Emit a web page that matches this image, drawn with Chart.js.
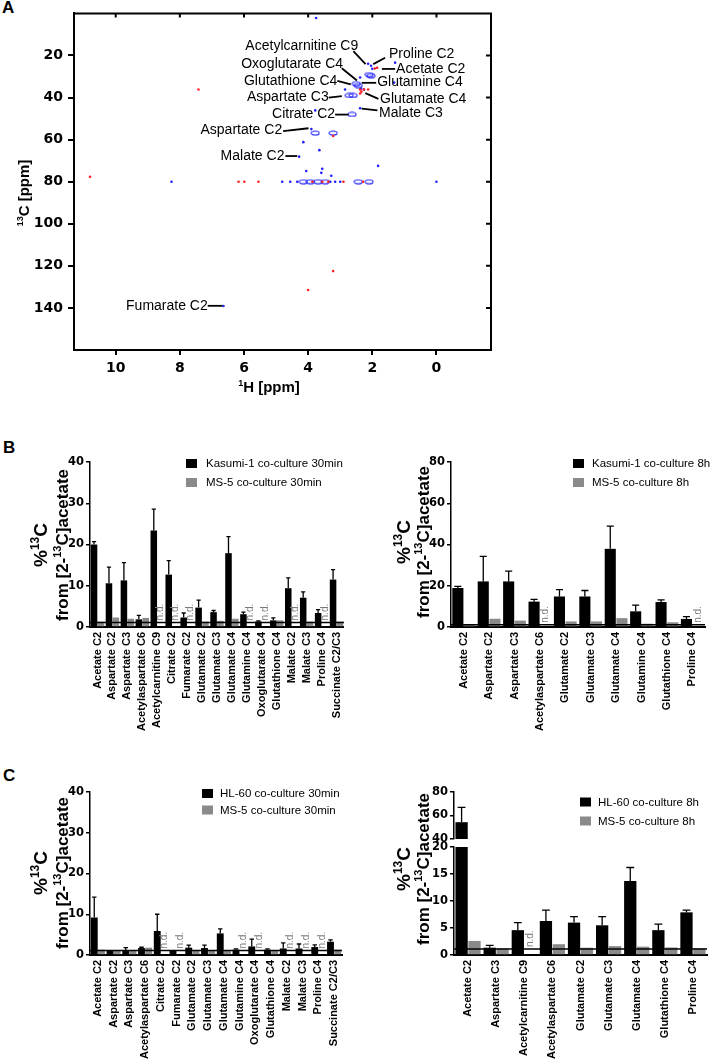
<!DOCTYPE html>
<html>
<head>
<meta charset="utf-8">
<script src="https://cdn.jsdelivr.net/npm/chart.js@4.4.1/dist/chart.umd.min.js"></script>
<style>
  body { margin: 0; background: #fff; width: 714px; height: 1064px; position: relative; overflow: hidden; }
  canvas { position: absolute; }
  .panel { position: absolute; font: bold 17px "Liberation Sans", Arial, sans-serif; line-height: 1; }
</style>
</head>
<body>
<div class="panel" style="left:2px;top:-1px">A</div>
<div class="panel" style="left:3px;top:439px">B</div>
<div class="panel" style="left:3px;top:767px">C</div>

<canvas id="nmr" width="500" height="405" style="left:0;top:0"></canvas>
<canvas id="b30" width="355" height="310" style="left:0;top:440px"></canvas>
<canvas id="b8h" width="354" height="310" style="left:360px;top:440px"></canvas>
<canvas id="c30" width="355" height="294" style="left:0;top:770px"></canvas>
<canvas id="c8hLow" width="354" height="294" style="left:360px;top:770px"></canvas>
<canvas id="c8hTop" width="354" height="294" style="left:360px;top:770px"></canvas>

<script>
const SANS = '"Liberation Sans", Arial, sans-serif';
const NUM = '"DejaVu Sans", sans-serif';

// ---- Panel A: 1H-13C HSQC peaks, [1H ppm, 13C ppm] ----
const xTicksA = [0, 2, 4, 6, 8, 10];
const yTicksA = [20, 40, 60, 80, 100, 120, 140];
const blueRings = [
  [2.1, 29.1], [2.04, 29.6], [2.5, 33.4], [2.44, 34.3], [2.72, 39.0], [2.6, 39.0], [2.63, 48.0],
  [3.78, 56.9], [3.22, 56.9], [4.15, 80], [3.93, 80], [3.69, 80], [3.47, 80], [2.44, 80], [2.1, 80]
];
const blueDots = [
  [3.75, 2.2], [2.13, 23.9], [2.04, 24.9], [2.0, 26.3], [2.38, 30.5], [2.35, 35.7], [2.26, 36.2],
  [2.85, 36.2], [3.78, 46.1], [2.38, 45.1], [1.29, 23.4], [1.32, 32.9], [3.9, 55.0], [4.15, 61.2],
  [3.65, 65.0], [4.06, 74.9], [3.59, 75.8], [3.56, 73.9], [3.28, 77.2], [1.82, 72.5], [4.28, 68.1],
  [4.81, 80], [4.56, 80], [4.34, 80], [3.31, 80], [3.16, 80], [3.0, 80], [0.0, 80], [8.26, 80],
  [6.64, 139.1]
];
const redDots = [
  [1.85, 25.8], [1.92, 26.2], [2.26, 36.2], [2.38, 36.2], [2.13, 36.2], [2.38, 38.1], [2.34, 37.2],
  [3.22, 58.3], [7.42, 36.2], [10.8, 77.7], [6.17, 80], [5.99, 80], [5.55, 80], [3.87, 80], [3.56, 80],
  [3.37, 80], [2.9, 80], [2.29, 80], [4.0, 131.5], [3.22, 122.5]
];
// [text, align, textH, textC, lineH1, lineC1, lineH2, lineC2]
const peakLabels = [
  ['Acetylcarnitine C9', 'right', 2.44, 15.4, 2.59, 17.9, 2.21, 24.1],
  ['Proline C2', 'left', 1.48, 19.4, 1.6, 21.1, 1.97, 24.1],
  ['Oxoglutarate C4', 'right', 2.91, 23.9, 2.95, 26.1, 2.48, 31.9],
  ['Acetate C2', 'left', 1.26, 26.3, 1.7, 26.4, 1.29, 26.4],
  ['Glutathione C4', 'right', 3.09, 32.4, 3.09, 32.1, 2.67, 33.7],
  ['Glutamine C4', 'left', 1.85, 32.9, 2.33, 33.0, 1.88, 33.0],
  ['Aspartate C3', 'right', 3.36, 40.0, 3.36, 40.0, 2.95, 39.3],
  ['Glutamate C4', 'left', 1.76, 40.6, 2.22, 37.9, 1.81, 40.6],
  ['Citrate C2', 'right', 3.16, 48.1, 3.16, 48.1, 2.74, 48.1],
  ['Malate C3', 'left', 1.79, 47.3, 2.33, 45.3, 1.84, 46.1],
  ['Aspartate C2', 'right', 4.81, 55.7, 4.78, 56.0, 3.99, 54.6],
  ['Malate C2', 'right', 4.74, 67.8, 4.71, 67.8, 4.34, 67.8],
  ['Fumarate C2', 'right', 7.13, 139.0, 7.13, 139.0, 6.67, 139.0]
];

// ---- Panels B and C: % 13C from [2-13C]acetate ----
const naturalAbundance = 1.1;
const cats30B = ['Acetate C2', 'Aspartate C2', 'Aspartate C3', 'Acetylaspartate C6', 'Acetylcarnitine C9',
  'Citrate C2', 'Fumarate C2', 'Glutamate C2', 'Glutamate C3', 'Glutamate C4', 'Glutamine C4',
  'Oxoglutarate C4', 'Glutathione C4', 'Malate C2', 'Malate C3', 'Proline C4', 'Succinate C2/C3'];
const kasumi30 = [20.0, 10.6, 11.3, 1.85, 23.4, 12.7, 2.3, 4.7, 3.6, 17.9, 3.1, 1.3, 1.6, 9.4, 7.1, 3.4, 11.5];
const kasumi30Err = [0.7, 3.9, 4.3, 0.95, 5.2, 3.4, 1.1, 1.8, 0.4, 4.0, 0.5, 0.15, 0.6, 2.5, 1.4, 0.8, 2.4];
const ms5Kasumi30 = [1.3, 2.3, 2.0, 2.2, null, null, null, 1.3, 1.5, 2.0, null, null, 1.6, null, 1.3, null, 1.3];

const cats8hB = ['Acetate C2', 'Aspartate C2', 'Aspartate C3', 'Acetylaspartate C6', 'Glutamate C2',
  'Glutamate C3', 'Glutamate C4', 'Glutamine C4', 'Glutathione C4', 'Proline C4'];
const kasumi8h = [18.9, 22.1, 22.1, 12.3, 14.8, 14.8, 37.9, 7.6, 12.1, 3.9];
const kasumi8hErr = [0.8, 12.1, 5.0, 1.1, 3.3, 2.9, 11.0, 3.0, 1.1, 1.1];
const ms5Kasumi8h = [1.3, 4.0, 3.1, null, 2.7, 2.7, 4.3, 1.6, 2.3, null];

const cats30C = ['Acetate C2', 'Aspartate C2', 'Aspartate C3', 'Acetylaspartate C6', 'Citrate C2',
  'Fumarate C2', 'Glutamate C2', 'Glutamate C3', 'Glutamate C4', 'Glutamine C4', 'Oxoglutarate C4',
  'Glutathione C4', 'Malate C2', 'Malate C3', 'Proline C4', 'Succinate C2/C3'];
const hl30 = [9.2, 1.0, 1.2, 1.7, 5.9, 1.05, 1.8, 1.7, 5.3, 1.3, 2.1, 1.3, 1.6, 1.6, 1.95, 3.25];
const hl30Err = [5.0, 0, 0.6, 0.2, 4.1, 0, 0.6, 0.7, 1.1, 0.2, 1.8, 0.2, 1.4, 1.1, 0.55, 0.45];
const ms5Hl30 = [1.3, 1.0, 1.2, 1.8, null, null, 1.1, 1.1, 1.2, null, null, 1.1, null, null, null, 1.3];

const cats8hC = ['Acetate C2', 'Aspartate C3', 'Acetylcarnitine C9', 'Acetylaspartate C6', 'Glutamate C2',
  'Glutamate C3', 'Glutamate C4', 'Glutathione C4', 'Proline C4'];
const hl8h = [54.3, 1.35, 4.6, 6.3, 6.0, 5.5, 13.7, 4.6, 7.9];
const hl8hErr = [12.6, 0.45, 1.4, 2.0, 1.1, 1.6, 2.5, 1.1, 0.4];
const ms5Hl8h = [2.6, 1.25, null, 2.0, 1.35, 1.65, 1.55, 1.4, 1.25];

const BLACK = '#000000';
const GREY = '#8a8a8a';

// draw text made of [text, isSuperscript] pieces, optionally rotated to read bottom-up
function drawRich(ctx, segs, x, y, size, rotated) {
  ctx.save();
  ctx.translate(x, y);
  if (rotated) ctx.rotate(-Math.PI / 2);
  const fonts = segs.map(s => `bold ${s[1] ? Math.round(size * 0.62) : size}px ${SANS}`);
  let total = 0;
  const widths = segs.map((s, i) => { ctx.font = fonts[i]; const w = ctx.measureText(s[0]).width; total += w; return w; });
  let cx = -total / 2;
  ctx.fillStyle = '#000';
  ctx.textAlign = 'left';
  ctx.textBaseline = 'alphabetic';
  segs.forEach((s, i) => {
    ctx.font = fonts[i];
    ctx.fillText(s[0], cx, s[1] ? -size * 0.4 : 0);
    cx += widths[i];
  });
  ctx.restore();
}

const yTitle1 = [['%', false], ['13', true], ['C', false]];
const yTitle2 = [['from [2-', false], ['13', true], ['C]acetate', false]];

const barExtras = {
  id: 'barExtras',
  afterDatasetsDraw(chart, args, o) {
    const { ctx, chartArea: a, scales: { y } } = chart;
    const black = chart.data.datasets[0];
    const meta0 = chart.getDatasetMeta(0);
    const meta1 = chart.getDatasetMeta(1);

    ctx.save();
    ctx.beginPath();
    ctx.rect(a.left, a.top - 2, a.right - a.left, a.bottom - a.top + 2);
    ctx.clip();
    // natural abundance line
    if (o.line) {
      const py = y.getPixelForValue(naturalAbundance);
      ctx.strokeStyle = '#000';
      ctx.lineWidth = 1.5;
      ctx.beginPath();
      ctx.moveTo(a.left, py);
      ctx.lineTo(a.right, py);
      ctx.stroke();
    }
    // upper error whiskers for the black series
    ctx.strokeStyle = '#000';
    ctx.lineWidth = 1.3;
    meta0.data.forEach((el, i) => {
      const e = black.err[i];
      if (!e) return;
      const top = y.getPixelForValue(black.data[i] + e);
      const cap = el.width * 0.32;
      ctx.beginPath();
      ctx.moveTo(el.x, el.y);
      ctx.lineTo(el.x, top);
      ctx.moveTo(el.x - cap, top);
      ctx.lineTo(el.x + cap, top);
      ctx.stroke();
    });
    ctx.restore();

    // n.d. markers where the grey series was not detected
    if (o.nd) {
      ctx.save();
      ctx.font = `10px ${SANS}`;
      ctx.fillStyle = '#7a7a7a';
      ctx.textAlign = 'left';
      ctx.textBaseline = 'middle';
      chart.data.datasets[1].data.forEach((v, i) => {
        if (v !== null) return;
        const b = meta0.data[i];
        const x = meta1.data[i] && isFinite(meta1.data[i].x) ? meta1.data[i].x : b.x + b.width;
        ctx.save();
        ctx.translate(x, y.getPixelForValue(naturalAbundance) - 2);
        ctx.rotate(-Math.PI / 2);
        ctx.fillText('n.d.', 0, 0);
        ctx.restore();
      });
      ctx.restore();
    }
  },
  afterDraw(chart, args, o) {
    const { ctx } = chart;
    if (o.legend) {
      const L = o.legend;
      ctx.save();
      ctx.font = `11.5px ${SANS}`;
      ctx.textAlign = 'left';
      ctx.textBaseline = 'middle';
      chart.data.datasets.forEach((ds, i) => {
        const cy = L.y + i * L.dy;
        ctx.fillStyle = ds.backgroundColor;
        ctx.fillRect(L.x, cy - 4.5, 11, 9);
        ctx.fillStyle = '#000';
        ctx.fillText(ds.label, L.x + L.gap, cy + 0.5);
      });
      ctx.restore();
    }
    if (o.title) {
      const T = o.title;
      drawRich(ctx, yTitle1, T.x1 + 7, T.cy, 19, true);
      drawRich(ctx, yTitle2, T.x2 + 6, T.cy, 17, true);
    }
  }
};

function barChart(id, cats, black, blackErr, grey, names, s) {
  return new Chart(document.getElementById(id), {
    type: 'bar',
    data: {
      labels: cats,
      datasets: [
        { label: names[0], data: black, err: blackErr, backgroundColor: BLACK },
        { label: names[1], data: grey, backgroundColor: GREY }
      ]
    },
    options: {
      responsive: false,
      animation: false,
      events: [],
      layout: { padding: { top: s.top, right: s.right, bottom: s.bottom || 0, left: 0 } },
      datasets: { bar: { categoryPercentage: 0.92, barPercentage: 0.95, borderWidth: 0 } },
      plugins: {
        legend: { display: false },
        tooltip: { enabled: false },
        barExtras: { line: s.line, nd: s.nd, legend: s.legend, title: s.title }
      },
      scales: {
        x: {
          display: s.showX,
          grid: { display: false, drawTicks: false },
          border: { color: '#000', width: 2 },
          ticks: {
            autoSkip: false, minRotation: 90, maxRotation: 90, padding: 5, color: '#000',
            font: { family: SANS, size: 11, weight: 'bold' }
          },
          afterFit: sc => { sc.height = s.xHeight; }
        },
        y: {
          min: s.min, max: s.max,
          grid: { drawOnChartArea: false, drawTicks: true, tickLength: 4, color: '#000', lineWidth: 1.5 },
          border: { color: '#000', width: 1.5 },
          ticks: { stepSize: s.step, padding: 2, color: '#000', font: { family: NUM, size: 11.5, weight: 'bold' } },
          afterFit: sc => { sc.width = s.yWidth; }
        }
      }
    },
    plugins: [barExtras]
  });
}

barChart('b30', cats30B, kasumi30, kasumi30Err, ms5Kasumi30,
  ['Kasumi-1 co-culture 30min', 'MS-5 co-culture 30min'],
  { top: 22, right: 10, xHeight: 123, yWidth: 90, min: 0, max: 40, step: 10, showX: true, line: true, nd: true,
    legend: { x: 186, y: 23.5, dy: 19, gap: 20 }, title: { x1: 40, x2: 62, cy: 105 } });

barChart('b8h', cats8hB, kasumi8h, kasumi8hErr, ms5Kasumi8h,
  ['Kasumi-1 co-culture 8h', 'MS-5 co-culture 8h'],
  { top: 22, right: 9, xHeight: 123, yWidth: 91, min: 0, max: 80, step: 20, showX: true, line: true, nd: true,
    legend: { x: 213, y: 23.5, dy: 19, gap: 19 }, title: { x1: 43, x2: 63, cy: 102 } });

barChart('c30', cats30C, hl30, hl30Err, ms5Hl30,
  ['HL-60 co-culture 30min', 'MS-5 co-culture 30min'],
  { top: 22, right: 13, xHeight: 109, yWidth: 90, min: 0, max: 40, step: 10, showX: true, line: true, nd: true,
    legend: { x: 202, y: 23.5, dy: 16.5, gap: 18 }, title: { x1: 40, x2: 62, cy: 103 } });

// C right: broken y axis, lower segment 0-20 and upper segment 40-80
barChart('c8hLow', cats8hC, hl8h, hl8hErr, ms5Hl8h,
  ['HL-60 co-culture 8h', 'MS-5 co-culture 8h'],
  { top: 77, right: 7, xHeight: 109, yWidth: 94, min: 0, max: 20, step: 5, showX: true, line: true, nd: true,
    title: { x1: 43, x2: 63, cy: 99 } });

barChart('c8hTop', cats8hC, hl8h, hl8hErr, ms5Hl8h,
  ['HL-60 co-culture 8h', 'MS-5 co-culture 8h'],
  { top: 22, right: 7, bottom: 225, xHeight: 0, yWidth: 94, min: 40, max: 80, step: 20, showX: false, line: false, nd: false,
    legend: { x: 220, y: 32, dy: 19, gap: 18 } });

// ---- Panel A chart ----
function ellipseStyle(w, h, color) {
  const c = document.createElement('canvas');
  c.width = w + 2; c.height = h + 2;
  const g = c.getContext('2d');
  g.strokeStyle = color; g.lineWidth = 1.1;
  g.beginPath();
  g.ellipse(c.width / 2, c.height / 2, w / 2, h / 2, 0, 0, Math.PI * 2);
  g.stroke();
  return c;
}

const nmrExtras = {
  id: 'nmrExtras',
  afterDraw(chart) {
    const { ctx, chartArea: a, scales: { x, y } } = chart;
    ctx.save();
    ctx.strokeStyle = '#000';
    ctx.lineWidth = 2;
    ctx.beginPath();
    ctx.moveTo(a.left, a.top); ctx.lineTo(a.right, a.top); ctx.lineTo(a.right, a.bottom);
    xTicksA.forEach(v => { const px = x.getPixelForValue(v); ctx.moveTo(px, a.top); ctx.lineTo(px, a.top + 4); });
    yTicksA.forEach(v => { const py = y.getPixelForValue(v); ctx.moveTo(a.right, py); ctx.lineTo(a.right - 5, py); });
    ctx.stroke();

    // peak annotations
    ctx.font = `14px ${SANS}`;
    ctx.fillStyle = '#000';
    ctx.textBaseline = 'middle';
    ctx.lineWidth = 1.8;
    peakLabels.forEach(p => {
      const tx = x.getPixelForValue(p[2]);
      const ty = y.getPixelForValue(p[3]);
      ctx.textAlign = p[1];
      ctx.fillText(p[0], tx, ty);
      ctx.beginPath();
      ctx.moveTo(x.getPixelForValue(p[4]), y.getPixelForValue(p[5]));
      ctx.lineTo(x.getPixelForValue(p[6]), y.getPixelForValue(p[7]));
      ctx.stroke();
    });

    // axis titles
    drawRich(ctx, [['1', true], ['H [ppm]', false]], 269, 392, 15, false);
    drawRich(ctx, [['13', true], ['C [ppm]', false]], 29, 193, 15, true);
    ctx.restore();
  }
};

const toXY = arr => arr.map(p => ({ x: p[0], y: p[1] }));

new Chart(document.getElementById('nmr'), {
  type: 'scatter',
  data: {
    datasets: [
      { data: toXY(redDots), pointStyle: 'circle', pointRadius: 1.3, backgroundColor: '#ff2020', borderWidth: 0 },
      { data: toXY(blueDots), pointStyle: 'circle', pointRadius: 1.3, backgroundColor: '#2020ff', borderWidth: 0 },
      { data: toXY(blueRings), pointStyle: ellipseStyle(8, 4, '#1a1aff'), pointRadius: 4 }
    ]
  },
  options: {
    responsive: false,
    animation: false,
    events: [],
    layout: { padding: { top: 12, right: 9, left: 0, bottom: 0 } },
    plugins: { legend: { display: false }, tooltip: { enabled: false } },
    scales: {
      x: {
        type: 'linear', reverse: true, min: -1.7, max: 11.3,
        afterBuildTicks: sc => { sc.ticks = xTicksA.map(v => ({ value: v })); },
        grid: { drawOnChartArea: false, drawTicks: true, tickLength: 5, color: '#000', lineWidth: 2 },
        border: { color: '#000', width: 2 },
        ticks: { padding: 5, color: '#000', font: { family: NUM, size: 14, weight: 'bold' } },
        afterFit: sc => { sc.height = 55; }
      },
      y: {
        type: 'linear', reverse: true, min: 0, max: 160,
        afterBuildTicks: sc => { sc.ticks = yTicksA.map(v => ({ value: v })); },
        grid: { drawOnChartArea: false, drawTicks: true, tickLength: 6, color: '#000', lineWidth: 2 },
        border: { color: '#000', width: 2 },
        ticks: { padding: 5, color: '#000', font: { family: NUM, size: 14, weight: 'bold' } },
        afterFit: sc => { sc.width = 74; }
      }
    }
  },
  plugins: [nmrExtras]
});
</script>
</body>
</html>
